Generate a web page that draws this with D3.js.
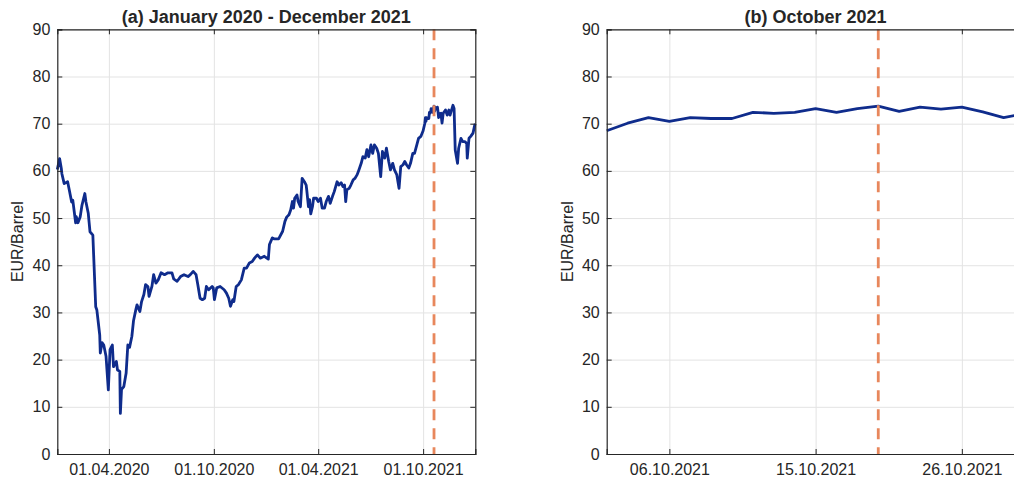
<!DOCTYPE html>
<html>
<head>
<meta charset="utf-8">
<script src="https://cdn.jsdelivr.net/npm/d3@7"></script>
<style>
  body { margin: 0; background: #fff; }
  svg { display: block; font-family: "Liberation Sans", Arial, Helvetica, sans-serif; }
  .tick text { fill: #262626; font-size: 16px; }
  .grid line { stroke: #e3e3e3; stroke-width: 1; }
  .grid .domain { display: none; }
  .frame line, .frame path { stroke: #262626; }
</style>
</head>
<body>
<svg id="chart" width="1014" height="483"></svg>
<script>
"use strict";

// (a) daily price, January 2020 - December 2021
const aDates = [
  "2020-01-02","2020-01-06","2020-01-09","2020-01-10","2020-01-14","2020-01-20","2020-01-23","2020-01-27","2020-01-29",
  "2020-02-03","2020-02-04","2020-02-07","2020-02-11","2020-02-14","2020-02-19","2020-02-21","2020-02-25","2020-02-28",
  "2020-03-04","2020-03-09","2020-03-11","2020-03-13","2020-03-16","2020-03-17","2020-03-20","2020-03-23","2020-03-27","2020-03-31",
  "2020-04-03","2020-04-07","2020-04-09","2020-04-14","2020-04-16","2020-04-20","2020-04-21","2020-04-23","2020-04-27","2020-04-30",
  "2020-05-01","2020-05-04","2020-05-07","2020-05-11","2020-05-14","2020-05-18","2020-05-20","2020-05-25","2020-05-28",
  "2020-06-01","2020-06-04","2020-06-08","2020-06-10","2020-06-15","2020-06-18","2020-06-22","2020-06-26",
  "2020-07-01","2020-07-07","2020-07-13","2020-07-20","2020-07-23","2020-07-29",
  "2020-08-04","2020-08-10","2020-08-17","2020-08-21","2020-08-26","2020-08-31",
  "2020-09-03","2020-09-07","2020-09-11","2020-09-15","2020-09-18","2020-09-22","2020-09-28","2020-09-30",
  "2020-10-02","2020-10-06","2020-10-12","2020-10-19","2020-10-23","2020-10-27","2020-10-30",
  "2020-11-03","2020-11-05","2020-11-09","2020-11-13","2020-11-18","2020-11-23","2020-11-27",
  "2020-12-02","2020-12-07","2020-12-11","2020-12-16","2020-12-21","2020-12-28",
  "2021-01-04","2021-01-06","2021-01-11","2021-01-14","2021-01-22","2021-01-29",
  "2021-02-02","2021-02-05","2021-02-09","2021-02-12","2021-02-15","2021-02-17","2021-02-19","2021-02-23","2021-02-25",
  "2021-03-01","2021-03-04","2021-03-08","2021-03-11","2021-03-12","2021-03-15","2021-03-17","2021-03-19","2021-03-22","2021-03-24","2021-03-29",
  "2021-04-01","2021-04-05","2021-04-08","2021-04-12","2021-04-15","2021-04-19","2021-04-22","2021-04-26","2021-04-29",
  "2021-05-04","2021-05-07","2021-05-11","2021-05-14","2021-05-17","2021-05-19","2021-05-21","2021-05-25","2021-05-28",
  "2021-06-01","2021-06-04","2021-06-08","2021-06-11","2021-06-15","2021-06-18","2021-06-22","2021-06-25","2021-06-28",
  "2021-07-02","2021-07-05","2021-07-08","2021-07-12","2021-07-15","2021-07-19","2021-07-22","2021-07-26","2021-07-29",
  "2021-08-02","2021-08-05","2021-08-09","2021-08-12","2021-08-16","2021-08-20","2021-08-23","2021-08-27","2021-08-30",
  "2021-09-02","2021-09-06","2021-09-09","2021-09-13","2021-09-16","2021-09-20","2021-09-23","2021-09-27",
  "2021-10-01","2021-10-04","2021-10-05","2021-10-06","2021-10-07","2021-10-08","2021-10-11","2021-10-12","2021-10-13",
  "2021-10-14","2021-10-15","2021-10-18","2021-10-19","2021-10-20","2021-10-21","2021-10-22","2021-10-25","2021-10-26",
  "2021-10-27","2021-10-28","2021-10-29",
  "2021-11-01","2021-11-03","2021-11-05","2021-11-09","2021-11-12","2021-11-15","2021-11-17","2021-11-22","2021-11-24",
  "2021-11-26","2021-11-30","2021-12-02","2021-12-06","2021-12-09","2021-12-13","2021-12-16","2021-12-17","2021-12-20",
  "2021-12-23","2021-12-27","2021-12-30","2021-12-31"
];
const aPrices = [
  60.3,62.6,60.5,59.4,57.3,57.7,55.9,53.4,53.8,
  49.0,50.3,49.0,50.3,52.7,55.2,53.4,51.0,47.1,
  46.4,31.2,30.5,28.4,25.2,21.4,23.6,23.1,20.7,13.6,
  22.1,23.1,18.5,19.6,17.8,17.5,8.6,13.7,14.3,16.4,
  17.1,23.1,22.6,24.9,28.3,30.6,31.6,30.2,32.3,
  33.8,35.9,35.5,33.4,35.5,38.0,36.2,36.9,
  38.4,38.0,38.4,38.4,37.1,36.6,
  37.6,38.0,37.6,38.0,38.7,38.0,
  35.9,33.0,32.7,33.0,35.5,34.8,35.5,35.2,
  32.7,35.2,35.5,34.8,34.1,33.0,31.3,
  32.7,32.3,35.5,35.9,36.9,39.4,39.4,
  40.5,40.8,41.5,42.2,41.5,41.9,
  41.3,44.4,45.8,45.6,45.6,47.2,
  49.3,50.2,50.7,51.7,53.5,52.1,54.2,54.9,53.5,
  52.4,58.4,57.7,57.0,56.0,52.4,53.9,50.9,52.4,54.2,54.2,
  53.5,54.2,52.1,52.1,53.5,54.6,53.1,54.6,55.6,
  57.7,57.0,57.5,56.7,57.0,53.5,56.0,56.3,57.0,
  58.1,58.4,59.2,60.2,61.6,63.0,62.7,64.5,63.0,
  65.5,63.7,65.5,64.8,63.7,58.8,64.1,62.7,64.8,
  62.0,60.2,61.6,60.2,59.2,56.3,60.9,61.3,62.0,
  61.3,60.6,61.6,63.7,63.7,65.5,66.9,67.3,
  68.5,70.1,71.3,70.5,71.3,71.1,71.1,72.4,72.2,
  72.4,73.2,72.4,73.2,73.7,72.6,73.5,73.1,73.5,
  72.5,71.3,72.1,
  72.2,70.1,72.2,72.9,71.8,72.9,71.8,73.9,73.2,
  64.4,61.6,64.8,66.9,66.2,66.2,65.8,62.7,66.9,
  67.3,68.0,69.7,70.0
];
const aTicks = ["2020-04-01", "2020-10-01", "2021-04-01", "2021-10-01"];

// (b) October 2021, trading days only
const bDates = [
  "2021-10-01","2021-10-04","2021-10-05","2021-10-06","2021-10-07","2021-10-08","2021-10-11",
  "2021-10-12","2021-10-13","2021-10-14","2021-10-15","2021-10-18","2021-10-19","2021-10-20",
  "2021-10-21","2021-10-22","2021-10-25","2021-10-26","2021-10-27","2021-10-28","2021-10-29"
];
const bPrices = [
  68.5,70.1,71.3,70.5,71.3,71.1,71.1,72.4,72.2,72.4,73.2,
  72.4,73.2,73.7,72.6,73.5,73.1,73.5,72.5,71.3,72.1
];
const bTicks = ["2021-10-06", "2021-10-15", "2021-10-26"];

const markerDate = "2021-10-20"; // dashed line
const yTicks = [0, 10, 20, 30, 40, 50, 60, 70, 80, 90];

const parseDate = d3.timeParse("%Y-%m-%d");
const fmt = d3.timeFormat("%d.%m.%Y");

const svg = d3.select("#chart");
const plotTop = 29.3, plotBottom = 454;
const y = d3.scaleLinear().domain([0, 90]).range([plotBottom, plotTop]);

function drawPanel(opts) {
  const { x, left, right, title, points, marker, ticks, tickFormat } = opts;
  const g = svg.append("g");
  const w = right - left;
  const h = plotBottom - plotTop;

  // grid
  g.append("g").attr("class", "grid")
    .attr("transform", `translate(${left},0)`)
    .call(d3.axisLeft(y).tickValues(yTicks).tickSize(-w).tickFormat(""));
  g.append("g").attr("class", "grid")
    .attr("transform", `translate(0,${plotTop})`)
    .call(d3.axisBottom(x).tickValues(ticks).tickSize(h).tickFormat(""));

  // price line
  const line = d3.line().x((d) => x(d[0])).y((d) => y(d[1]));
  g.append("path").datum(points)
    .attr("fill", "none")
    .attr("stroke", "#0f2c8c")
    .attr("stroke-width", 2.8)
    .attr("stroke-linejoin", "round")
    .attr("d", line);

  // dashed marker
  g.append("line")
    .attr("x1", x(marker)).attr("x2", x(marker))
    .attr("y1", plotTop).attr("y2", plotBottom)
    .attr("stroke", "#e8875c")
    .attr("stroke-width", 2.8)
    .attr("stroke-dasharray", "11,8");

  // axes (box with inward ticks)
  const frame = g.append("g").attr("class", "frame");
  frame.append("g").attr("transform", `translate(${left},0)`)
    .call(d3.axisLeft(y).tickValues(yTicks).tickSize(-5).tickPadding(7));
  frame.append("g").attr("transform", `translate(${right},0)`)
    .call(d3.axisRight(y).tickValues(yTicks).tickSize(-5).tickFormat(""));
  frame.append("g").attr("transform", `translate(0,${plotBottom})`)
    .call(d3.axisBottom(x).tickValues(ticks).tickSize(-5).tickPadding(10).tickFormat(tickFormat));
  frame.append("g").attr("transform", `translate(0,${plotTop})`)
    .call(d3.axisTop(x).tickValues(ticks).tickSize(-5).tickFormat(""));
  frame.selectAll("g").attr("font-size", null).attr("font-family", null);
  frame.selectAll(".domain").attr("stroke-width", 1.2);

  g.append("text")
    .attr("x", (left + right) / 2).attr("y", 23)
    .attr("text-anchor", "middle")
    .attr("font-size", 18).attr("font-weight", "bold")
    .attr("fill", "#262626")
    .text(title);

  g.append("text")
    .attr("transform", `translate(${left - 34},${(plotTop + plotBottom) / 2}) rotate(-90)`)
    .attr("text-anchor", "middle")
    .attr("font-size", 16)
    .attr("fill", "#262626")
    .text("EUR/Barrel");
}

// panel (a): calendar time axis
const xa = d3.scaleTime()
  .domain([parseDate(aDates[0]), parseDate(aDates[aDates.length - 1])])
  .range([57.3, 475.3]);
drawPanel({
  x: xa, left: 57.3, right: 475.3,
  title: "(a) January 2020 - December 2021",
  points: aDates.map((d, i) => [parseDate(d), aPrices[i]]),
  marker: parseDate(markerDate),
  ticks: aTicks.map(parseDate),
  tickFormat: fmt
});

// panel (b): one slot per trading day, right side runs past the window
const xb = d3.scalePoint().domain(bDates).range([606.7, 1024.5]);
drawPanel({
  x: xb, left: 606.7, right: 1024.5,
  title: "(b) October 2021",
  points: bDates.map((d, i) => [d, bPrices[i]]),
  marker: markerDate,
  ticks: bTicks,
  tickFormat: (d) => fmt(parseDate(d))
});
</script>
</body>
</html>
